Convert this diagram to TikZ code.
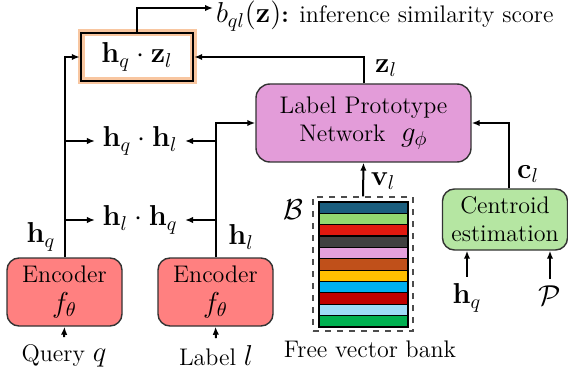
\documentclass[tikz,border=0pt]{standalone}
\usepackage{amsmath,amssymb}
\usetikzlibrary{arrows.meta, positioning, calc}

\definecolor{protopink}{HTML}{E39CD9}
\definecolor{encred}{HTML}{FF8080}
\definecolor{centgreen}{HTML}{B5E6A2}
\definecolor{glow}{HTML}{F8C6A0}
\definecolor{bkA}{HTML}{1A5E7E}
\definecolor{bkB}{HTML}{92D870}
\definecolor{bkC}{HTML}{E0190F}
\definecolor{bkD}{HTML}{404040}
\definecolor{bkE}{HTML}{E5A0DC}
\definecolor{bkF}{HTML}{C0501A}
\definecolor{bkG}{HTML}{FFC000}
\definecolor{bkH}{HTML}{00B0F0}
\definecolor{bkI}{HTML}{C00000}
\definecolor{bkJ}{HTML}{9DDCF7}
\definecolor{bkK}{HTML}{00B050}

\begin{document}
\begin{tikzpicture}[
    x=0.5pt, y=-0.5pt,
    >={Latex[length=4pt,width=3.2pt]},
    font=\large,
    every path/.style={line width=1pt},
    enc/.style={rectangle, rounded corners=6pt, draw=black!80, line width=0.7pt,
        fill=encred, minimum width=57.5pt, minimum height=34pt, align=center,
        inner sep=1pt},
    net/.style={rectangle, rounded corners=7pt, draw=black!80, line width=0.7pt,
        fill=protopink, minimum width=107.5pt, minimum height=39pt, align=center},
    cent/.style={rectangle, rounded corners=6pt, draw=black!80, line width=0.7pt,
        fill=centgreen, minimum width=62.5pt, minimum height=30.5pt, align=center,
        inner sep=0pt},
    dotbox/.style={rectangle, draw=black, line width=1.2pt, minimum width=56pt,
        minimum height=24pt, font=\Large, preaction={draw=glow, line width=3.5pt}},
    bankbox/.style={rectangle, draw=black!70, dashed, line width=0.6pt,
        minimum width=50pt, minimum height=67pt},
    lbl/.style={inner sep=1pt, font=\Large}
]
\useasboundingbox (0,0) rectangle (568,385);

% Nodes ------------------------------------------------------

\node[dotbox] (dotzq) at (137,57) {$\mathbf{h}_q\cdot\mathbf{z}_l$};
\node[anchor=west, inner sep=1pt] (score) at (213,16)
    {{\Large$b_{ql}(\mathbf{z})$}\textbf{:} inference similarity score};

\node[net] (proto) at (363.5,123) {Label Prototype\\Network~ {\Large$g_\phi$}};

\node[enc] (encq) at (64.5,292) {Encoder\\[1pt]{\Large$f_\theta$}};
\node[enc] (encl) at (215.5,292) {Encoder\\[1pt]{\Large$f_\theta$}};
\node (query) at (64,356) {Query {\Large$q$}};
\node (label) at (216,356) {Label {\Large$l$}};

\node[font=\Large] (hqhl) at (140,141) {$\mathbf{h}_q\cdot\mathbf{h}_l$};
\node[font=\Large] (hlhq) at (140,220) {$\mathbf{h}_l\cdot\mathbf{h}_q$};
\node[lbl] (hqlab) at (41,237) {$\mathbf{h}_q$};
\node[lbl] (hllab) at (241,237) {$\mathbf{h}_l$};
\node[lbl] (zllab) at (386,68) {$\mathbf{z}_l$};

% vector bank
\node[bankbox] (bank) at (363,264) {};
\foreach \c [count=\i] in {bkA,bkB,bkC,bkD,bkE,bkF,bkG,bkH,bkI,bkJ,bkK}
    \filldraw[fill=\c, draw=black, line width=0.6pt]
        (319,{202+(\i-1)*11.36}) rectangle ++(89,11.36);
\node[lbl] (bset) at (293,210) {$\mathcal{B}$};
\node (banklab) at (370,349) {Free vector bank};
\node[lbl] (vllab) at (383,181) {$\mathbf{v}_l$};

\node[cent] (centr) at (505,219.5) {Centroid\\estimation};
\node[lbl] (cllab) at (528,174) {$\mathbf{c}_l$};
\node[lbl] (hqin) at (467,298) {$\mathbf{h}_q$};
\node[lbl] (pset) at (550,296) {$\mathcal{P}$};

% Arrows ---------------------------------------------------

\draw [->] (dotzq.north) |- ([yshift=4pt]score.west);
\draw [->] (proto.north) |- (dotzq.east);
\draw [->] (encq.north) |- (dotzq.west);
\draw [->] (encl.north) |- (proto.west);

\draw [->] (encq.north |- hqhl) -- (hqhl.west);
\draw [->] (encl.north |- hqhl) -- (hqhl.east);
\draw [->] (encq.north |- hlhq) -- (hlhq.west);
\draw [->] (encl.north |- hlhq) -- (hlhq.east);

\draw [->] (query.north) -- (encq.south);
\draw [->] (label.north) -- (encl.south);

\draw [->] (bank.north) -- (proto.south);
\draw [->] ([xshift=2pt]centr.north) |- (proto.east);
\draw [->] ([yshift=2pt]hqin.north) -- (hqin |- centr.south);
\draw [->] ([yshift=2pt]pset.north) -- (pset |- centr.south);

\end{tikzpicture}
\end{document}
